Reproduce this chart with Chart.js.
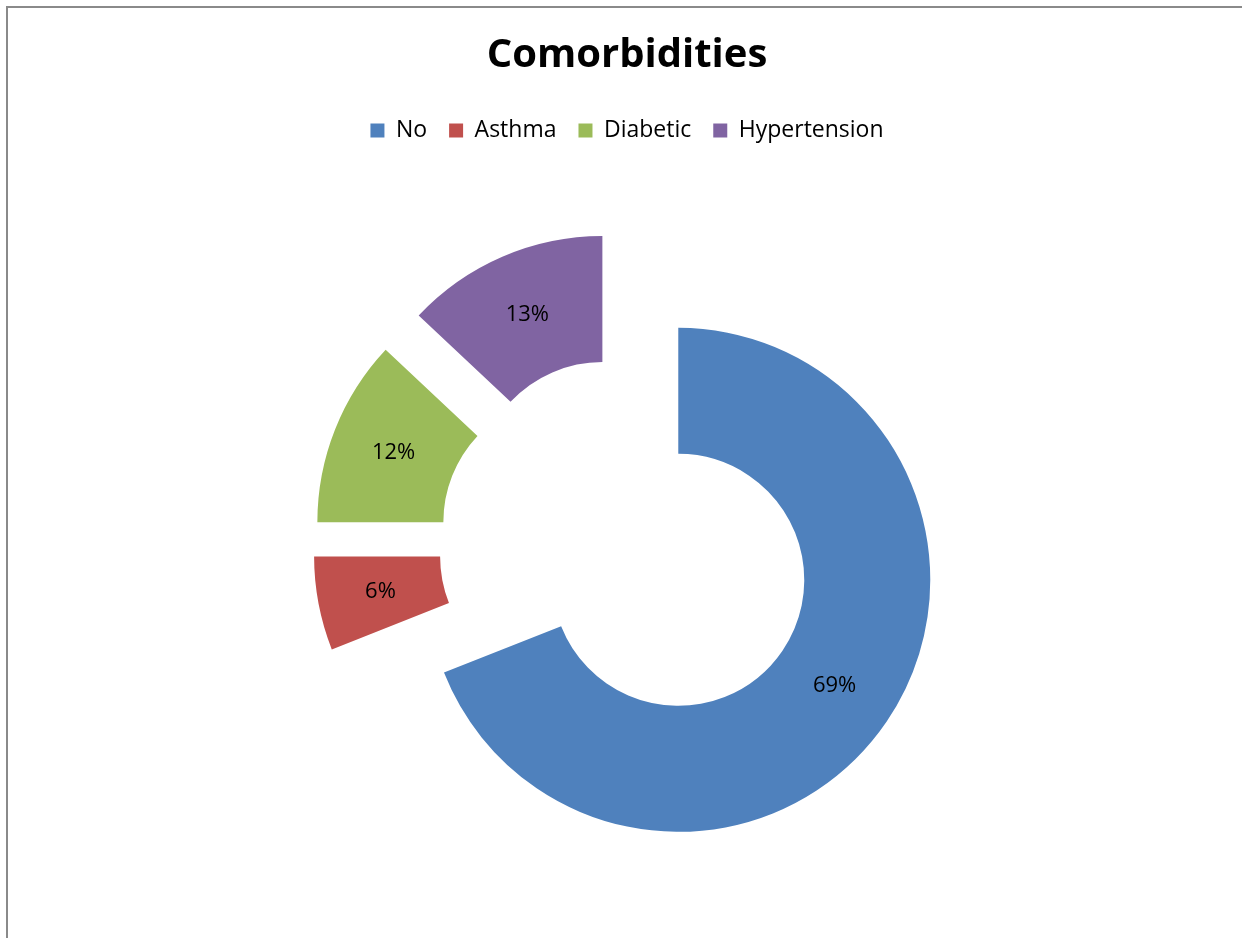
<!DOCTYPE html>
<html>
<head>
<meta charset="utf-8">
<title>Comorbidities</title>
<script src="https://cdn.jsdelivr.net/npm/chart.js@4"></script>
<style>
  body { margin: 0; background: #fff; }
  #wrap { position: relative; width: 1242px; height: 938px; }
  #frame {
    position: absolute; left: 6px; top: 6px; right: 0; bottom: 0;
    border-left: 2px solid #8a8a8a; border-top: 2px solid #8a8a8a;
    pointer-events: none;
  }
</style>
</head>
<body>
<div id="wrap">
  <canvas id="comorb" width="1242" height="938"></canvas>
  <div id="frame"></div>
</div>
<script>
var labels = ["No", "Asthma", "Diabetic", "Hypertension"];
var shares = [69, 6, 12, 13];
var colors = ["#4F81BD", "#C0504D", "#9BBB59", "#8064A2"];

// distance each slice is pulled away from the centre
var explode = 62;

function sliceShift(arc) {
  var mid = (arc.startAngle + arc.endAngle) / 2;
  return { x: Math.cos(mid) * explode, y: Math.sin(mid) * explode };
}

// draws the slices moved outward, then the percent labels on top
var explodePlugin = {
  id: "explode",
  beforeDatasetDraw: function(chart, args) {
    var ctx = chart.ctx;
    args.meta.data.forEach(function(arc) {
      var s = sliceShift(arc);
      ctx.save();
      ctx.translate(s.x, s.y);
      arc.draw(ctx);
      ctx.restore();
    });
    return false;
  },
  afterDatasetsDraw: function(chart) {
    var ctx = chart.ctx;
    var meta = chart.getDatasetMeta(0);
    ctx.save();
    ctx.font = "22px 'Open Sans'";
    ctx.fillStyle = "#000";
    ctx.textAlign = "center";
    ctx.textBaseline = "middle";
    meta.data.forEach(function(arc, i) {
      var s = sliceShift(arc);
      var p = arc.tooltipPosition();
      ctx.fillText(shares[i] + "%", p.x + s.x, p.y + s.y);
    });
    ctx.restore();
  }
};

new Chart(document.getElementById("comorb"), {
  type: "doughnut",
  data: {
    labels: labels,
    datasets: [{
      data: shares,
      backgroundColor: colors,
      borderWidth: 0
    }]
  },
  options: {
    responsive: false,
    animation: false,
    radius: 252,
    cutout: "50%",
    layout: { padding: { left: 20, right: 8, top: 0, bottom: -9 } },
    plugins: {
      title: {
        display: true,
        text: "Comorbidities",
        color: "#000",
        font: { family: "'Open Sans'", size: 40, weight: "bold" },
        padding: { top: 32, bottom: 17 }
      },
      legend: {
        position: "top",
        labels: {
          color: "#000",
          font: { family: "'Open Sans'", size: 23 },
          boxWidth: 14,
          boxHeight: 14,
          padding: 22
        }
      },
      tooltip: { enabled: false }
    }
  },
  plugins: [explodePlugin]
});
</script>
</body>
</html>
